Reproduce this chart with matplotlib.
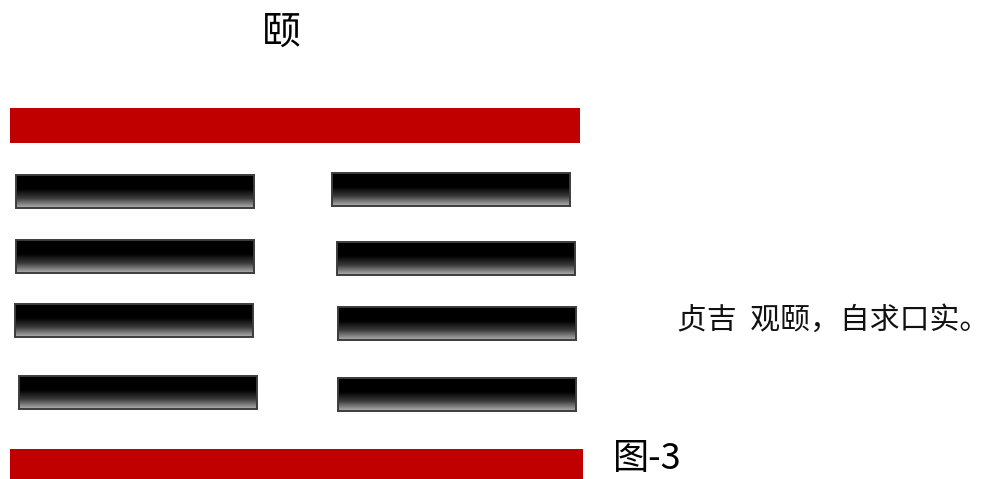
import numpy as np
import matplotlib.pyplot as plt
from matplotlib.colors import LinearSegmentedColormap
from matplotlib.patches import Rectangle

plt.rcParams['font.family'] = ['Noto Sans CJK SC', 'DejaVu Sans']

# 颐卦: 上九, 六五, 六四, 六三, 六二, 初九 (top to bottom), 1 = yang, 0 = yin
gua_name = "颐"
yao = [1, 0, 0, 0, 0, 1]
judgement = "贞吉  观颐，自求口实。"
fig_label = "图-3"

# layout in pixels (x, y-top, width, height), picture coords
yang_boxes = [(10, 108, 570, 35), (10, 449, 573, 31)]
yin_left = [(16, 175), (16, 240), (15, 304), (19, 376)]
yin_right = [(332, 173), (337, 242), (338, 307), (338, 378)]
yin_w, yin_h = 238, 33

red = '#c00000'
grad = LinearSegmentedColormap.from_list(
    'yin', [(0.0, '#000000'), (0.42, '#000000'), (0.7, '#3a3a3a'), (1.0, '#b0b0b0')])
g = np.linspace(0, 1, 64).reshape(-1, 1)

fig = plt.figure(figsize=(9.95, 4.79), dpi=100)
ax = fig.add_axes([0, 0, 1, 1])
ax.set_xlim(0, 995)
ax.set_ylim(479, 0)
ax.axis('off')


def yin_bar(x, y):
    ax.imshow(g, cmap=grad, aspect='auto', extent=(x, x + yin_w, y + yin_h, y),
              interpolation='bilinear', zorder=2)
    ax.add_patch(Rectangle((x, y), yin_w, yin_h, fill=False,
                           edgecolor='#3c3c3c', linewidth=1.4, zorder=3))


yang_i = 0
yin_i = 0
for v in yao:
    if v == 1:
        x, y, w, h = yang_boxes[yang_i]
        ax.add_patch(Rectangle((x, y), w, h, facecolor=red, edgecolor='none', zorder=2))
        yang_i += 1
    else:
        yin_bar(*yin_left[yin_i])
        yin_bar(*yin_right[yin_i])
        yin_i += 1

ax.text(281, 33, gua_name, fontsize=28, ha='center', va='center', color='black')
ax.text(677, 320, judgement, fontsize=21.5, ha='left', va='center', color='#111111')
ax.text(613, 459, fig_label, fontsize=26, ha='left', va='center', color='black')

ax.set_xlim(0, 995)
ax.set_ylim(479, 0)
fig.savefig('out.png', dpi=100)
